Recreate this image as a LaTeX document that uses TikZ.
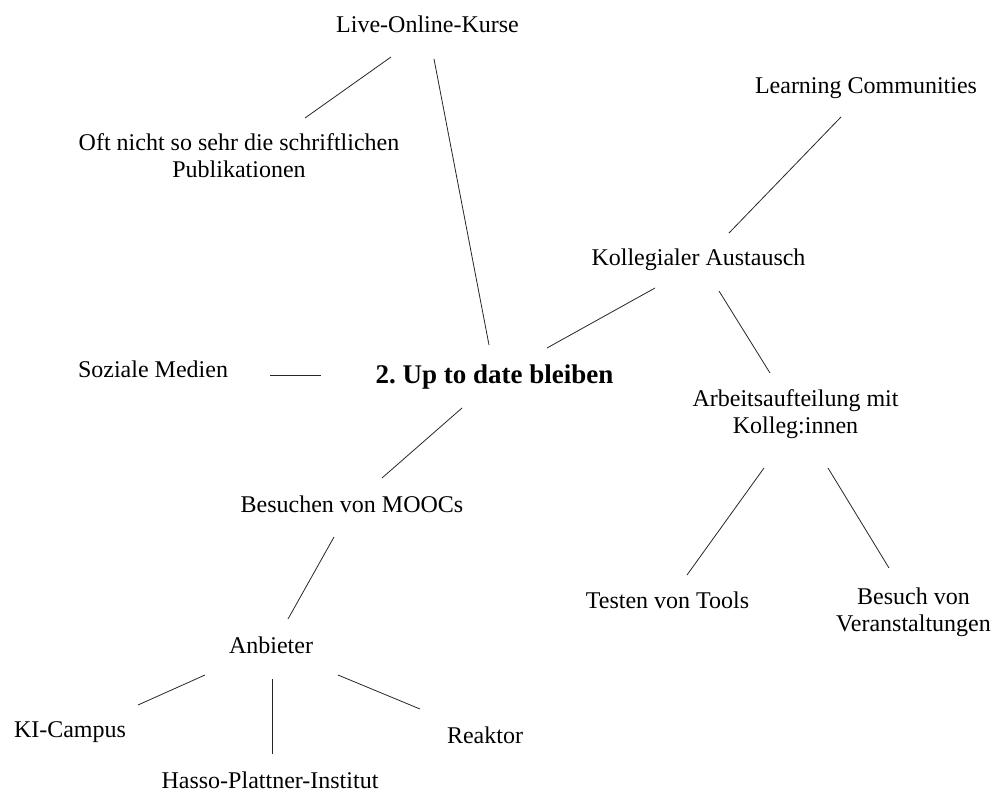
\documentclass[tikz,border=0pt]{standalone}
\usepackage{fontspec}
\setmainfont{Liberation Serif}
\usetikzlibrary{calc}
\frenchspacing
\begin{document}
\begin{tikzpicture}[x=1pt,y=-1pt,
  topic/.style={anchor=base,align=center,inner sep=0pt,font=\fontsize{24}{27}\selectfont},
  hub/.style={anchor=base,align=center,inner sep=0pt,font=\fontsize{27}{32}\selectfont\bfseries},
  link/.style={draw=black!85,line width=0.8pt}]
\useasboundingbox (0,0) rectangle (998,792);

% nodes, placed by the baseline of their last line
\node[topic] (live)  at (427.5,33) {Live-Online-Kurse};
\node[topic] (oft)   at (239,177)  {Oft nicht so sehr die schriftlichen\\Publikationen};
\node[topic] (learn) at (866,93)   {Learning Communities};
\node[topic] (koll)  at (698.5,265) {Kollegialer Austausch};
\node[topic] (soz)   at (153,377)  {Soziale Medien};
\node[hub]   (up)    at (494.5,383) {2. Up to date bleiben};
\node[topic] (arb)   at (795.5,433) {Arbeitsaufteilung mit\\Kolleg:innen};
\node[topic] (mooc)  at (352,512)  {Besuchen von MOOCs};
\node[topic] (test)  at (667.5,608) {Testen von Tools};
\node[topic] (bes)   at (913.5,631) {Besuch von\\Veranstaltungen};
\node[topic] (anb)   at (271,653)  {Anbieter};
\node[topic] (ki)    at (70,737)   {KI-Campus};
\node[topic] (reak)  at (485,743)  {Reaktor};
\node[topic] (hasso) at (270,788)  {Hasso-Plattner-Institut};

% connectors, offsets measured from each node's baseline point
\draw[link] ($(live.base)+(-36.5,24)$) -- ($(oft.base)+(66,-59)$);
\draw[link] ($(live.base)+(6.5,26)$)   -- ($(up.base)+(-5.5,-38)$);
\draw[link] ($(learn.base)+(-25,24)$)  -- ($(koll.base)+(30.5,-32)$);
\draw[link] ($(koll.base)+(-43.5,23)$) -- ($(up.base)+(52.5,-35)$);
\draw[link] ($(koll.base)+(20.5,26)$)  -- ($(arb.base)+(-25.5,-60)$);
\draw[link] ($(soz.base)+(117,-2)$)    -- ($(up.base)+(-173.5,-8)$);
\draw[link] ($(up.base)+(-32.5,25)$)   -- ($(mooc.base)+(30,-34)$);
\draw[link] ($(mooc.base)+(-18,25)$)   -- ($(anb.base)+(17,-34)$);
\draw[link] ($(arb.base)+(-31.5,35)$)  -- ($(test.base)+(19.5,-33)$);
\draw[link] ($(arb.base)+(32.5,35)$)   -- ($(bes.base)+(-24.5,-63)$);
\draw[link] ($(anb.base)+(-66,22)$)    -- ($(ki.base)+(68,-32)$);
\draw[link] ($(anb.base)+(1,26)$)      -- ($(hasso.base)+(2,-34)$);
\draw[link] ($(anb.base)+(67,22)$)     -- ($(reak.base)+(-65,-34)$);
\end{tikzpicture}
\end{document}
